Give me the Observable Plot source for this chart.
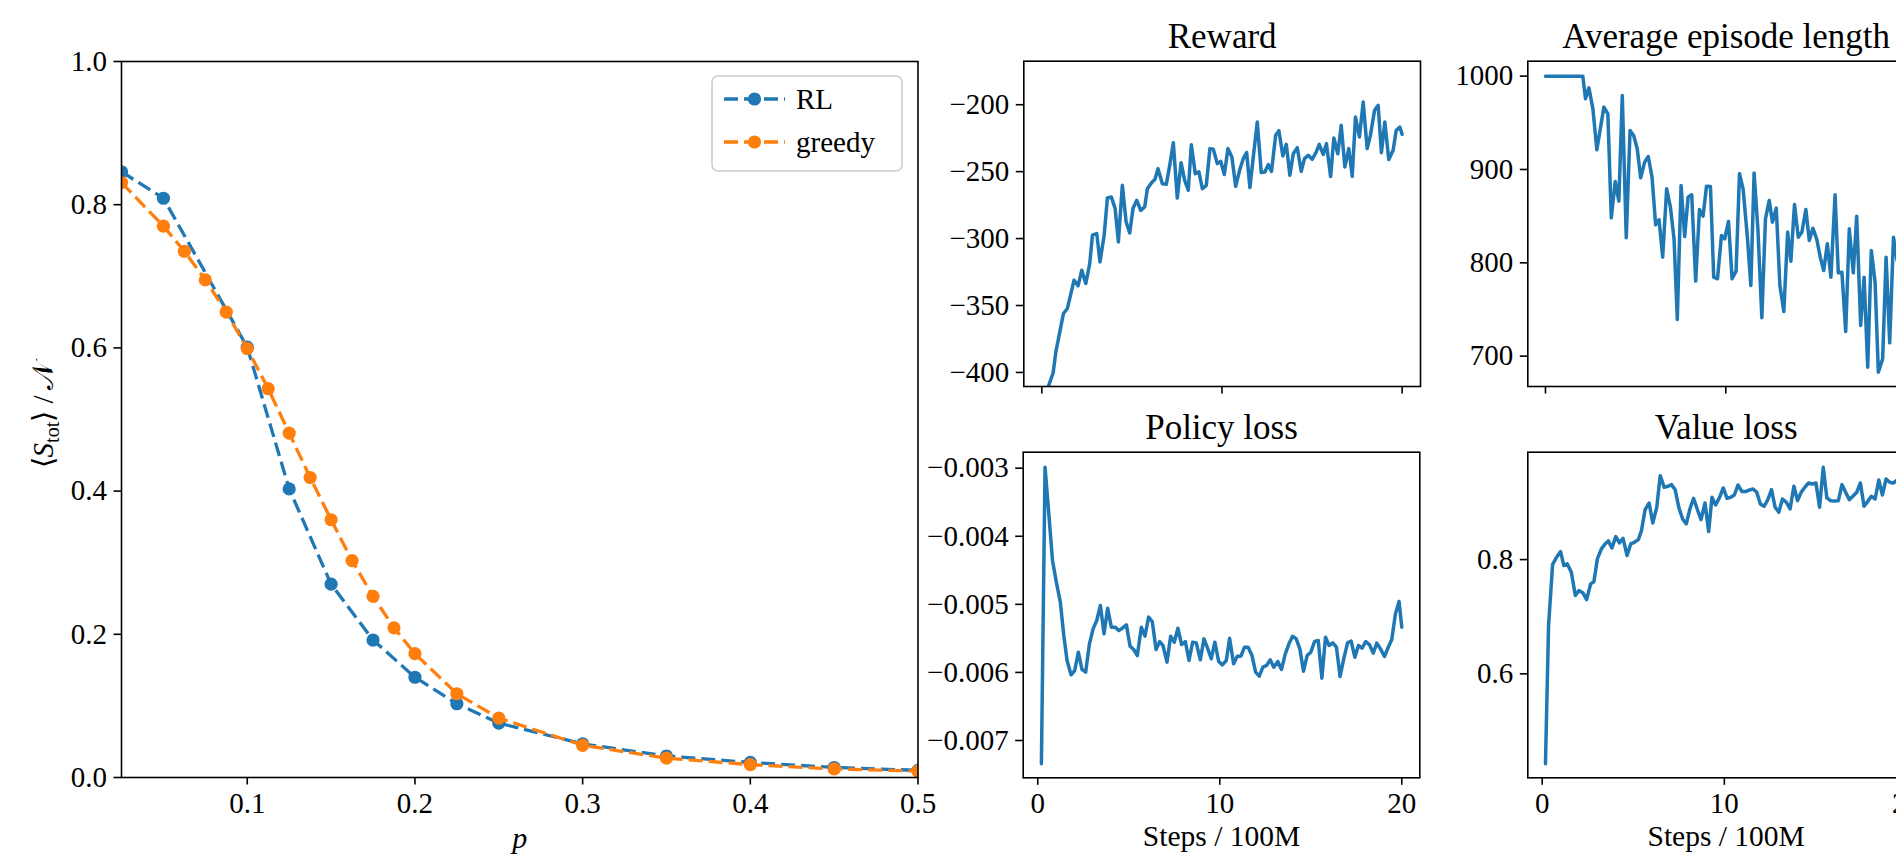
<!DOCTYPE html>
<html><head><meta charset="utf-8">
<script src="https://cdn.jsdelivr.net/npm/d3@7"></script>
<script src="https://cdn.jsdelivr.net/npm/@observablehq/plot@0.6"></script>
<style>
html,body{margin:0;padding:0;overflow:hidden;background:#fff;}
#fig{position:relative;width:1896px;height:857px;overflow:hidden;background:#fff;}
#fig svg{position:absolute;}
#fig svg text{font-family:'Liberation Serif','Times New Roman',serif !important;}
#fig svg g[aria-label$="tick label"] text{font-size:29px !important;font-variant-numeric:normal !important;}
</style></head><body><div id="fig"></div><script>
// ---------- data: left panel ----------
const seriesNames = ["RL", "greedy"];
const pRL = [0.025, 0.05, 0.1, 0.125, 0.15, 0.175, 0.2, 0.225, 0.25, 0.3, 0.35, 0.4, 0.45, 0.5];
const sRL = [0.846, 0.809, 0.601, 0.403, 0.270, 0.192, 0.140, 0.103, 0.076, 0.047, 0.030, 0.021, 0.014, 0.010];
const pGreedy = [0.025, 0.05, 0.0625, 0.075, 0.0875, 0.1, 0.1125, 0.125, 0.1375, 0.15, 0.1625, 0.175, 0.1875, 0.2, 0.225, 0.25, 0.3, 0.35, 0.4, 0.45, 0.5];
const sGreedy = [0.831, 0.770, 0.735, 0.695, 0.650, 0.599, 0.543, 0.481, 0.419, 0.360, 0.303, 0.253, 0.209, 0.173, 0.117, 0.083, 0.045, 0.027, 0.018, 0.012, 0.009];
const pTicks = [0.1, 0.2, 0.3, 0.4, 0.5];
const sTicks = [0, 0.2, 0.4, 0.6, 0.8, 1.0];

// ---------- data: training curves ----------
const stepTicks = [0, 10, 20];
const rewardSteps = [0.37,0.63,0.78,1.20,1.42,1.79,2.01,2.22,2.44,2.66,2.81,3.05,3.23,3.46,3.64,3.86,4.07,4.25,4.47,4.68,4.88,5.06,5.27,5.49,5.71,5.86,6.08,6.28,6.45,6.69,6.91,7.10,7.30,7.52,7.73,7.93,8.13,8.30,8.52,8.72,8.91,9.13,9.33,9.52,9.74,9.93,10.13,10.33,10.55,10.76,10.98,11.18,11.37,11.55,11.77,11.96,12.18,12.38,12.57,12.75,12.98,13.16,13.38,13.57,13.77,13.96,14.18,14.40,14.58,14.79,15.01,15.23,15.40,15.62,15.80,16.03,16.21,16.43,16.62,16.82,17.04,17.23,17.41,17.63,17.84,18.06,18.24,18.47,18.67,18.85,19.04,19.26,19.50,19.67,19.87,20.0];
const rewardValues = [-410.2,-400.2,-384.6,-356.0,-352.2,-331.1,-335.3,-323.6,-333.6,-318.7,-297.5,-296.3,-317.4,-297.5,-269.7,-268.9,-277.6,-302.5,-260.2,-287.6,-295.8,-277.6,-271.4,-278.9,-276.4,-262.7,-258.5,-255.7,-247.8,-259.0,-259.5,-245.3,-228.4,-269.7,-243.3,-256.5,-263.9,-229.9,-251.5,-250.2,-262.7,-260.2,-232.8,-233.3,-244.0,-242.3,-252.2,-232.8,-239.1,-260.9,-249.0,-240.3,-235.8,-261.9,-235.3,-212.9,-250.7,-250.2,-244.8,-249.8,-222.9,-219.4,-238.3,-229.6,-252.7,-236.6,-232.1,-249.8,-240.3,-237.8,-240.8,-235.3,-229.6,-237.1,-229.1,-253.7,-224.9,-236.6,-215.4,-246.5,-232.8,-253.5,-209.2,-224.1,-198.0,-232.8,-222.9,-204.2,-200.5,-235.8,-212.9,-241.0,-234.1,-219.2,-216.7,-222.1];
const rewardTicks = [-400, -350, -300, -250, -200];

const lengthSteps = [0,2.07,2.22,2.41,2.63,2.85,3.24,3.46,3.65,3.87,4.07,4.26,4.48,4.69,4.89,5.09,5.28,5.50,5.70,5.91,6.11,6.30,6.50,6.72,6.93,7.13,7.31,7.52,7.72,7.91,8.11,8.33,8.54,8.74,8.93,9.15,9.33,9.54,9.76,9.94,10.15,10.35,10.57,10.76,10.96,11.19,11.39,11.57,11.78,12.00,12.20,12.41,12.59,12.80,13.00,13.22,13.43,13.61,13.81,14.02,14.22,14.44,14.63,14.83,15.04,15.24,15.43,15.63,15.83,16.06,16.24,16.44,16.65,16.85,17.07,17.26,17.48,17.67,17.87,18.07,18.28,18.46,18.70,18.89,19.09,19.30,19.50];
const lengthValues = [1000,1000,975.7,987.5,965.0,921.1,966.8,959.6,848.2,887.1,866.1,979.3,826.8,941.8,936.4,922.1,891.1,907.9,913.9,891.8,840.7,846.1,806.1,879.3,859.6,825.7,739.3,882.9,828.2,870.4,872.9,780.4,857.1,850.0,882.1,881.8,784.6,782.9,829.3,825.7,844.3,782.9,791.1,895.4,879.3,829.3,775.7,896.1,836.4,741.1,847.1,866.8,843.6,858.6,775.7,747.9,832.9,801.8,862.5,827.5,832.9,857.1,823.9,837.1,825.7,806.1,791.8,820.4,784.6,872.9,789.3,790.0,726.4,836.4,789.3,850.0,732.9,784.6,688.2,813.2,779.3,682.9,697.1,806.1,714.3,827.5,802.5];
const lengthTicks = [700, 800, 900, 1000];

const policySteps = [0.20,0.40,0.60,0.81,1.02,1.24,1.43,1.61,1.83,2.03,2.23,2.43,2.63,2.84,3.04,3.24,3.44,3.64,3.84,4.04,4.25,4.45,4.65,4.87,5.07,5.27,5.47,5.69,5.89,6.09,6.29,6.50,6.70,6.88,7.10,7.30,7.50,7.70,7.90,8.11,8.31,8.51,8.71,8.93,9.13,9.33,9.53,9.73,9.94,10.14,10.36,10.54,10.76,10.96,11.16,11.36,11.56,11.77,11.97,12.17,12.37,12.57,12.77,12.97,13.19,13.39,13.60,13.80,14.00,14.20,14.40,14.60,14.80,15.00,15.21,15.41,15.61,15.81,16.01,16.21,16.41,16.61,16.82,17.02,17.22,17.42,17.62,17.82,18.02,18.23,18.43,18.63,18.83,19.05,19.25,19.45,19.65,19.85,20.0];
const policyValues = [-0.007343,-0.002985,-0.003646,-0.004356,-0.004674,-0.004968,-0.005458,-0.005825,-0.006035,-0.005972,-0.005703,-0.005957,-0.005996,-0.005580,-0.005360,-0.005237,-0.005017,-0.005433,-0.005056,-0.005335,-0.005335,-0.005384,-0.005350,-0.005301,-0.005614,-0.005663,-0.005752,-0.005335,-0.005468,-0.005188,-0.005252,-0.005663,-0.005546,-0.005605,-0.005849,-0.005468,-0.005556,-0.005350,-0.005590,-0.005546,-0.005825,-0.005556,-0.005566,-0.005815,-0.005507,-0.005644,-0.005800,-0.005556,-0.005840,-0.005889,-0.005825,-0.005497,-0.005874,-0.005761,-0.005761,-0.005629,-0.005629,-0.005752,-0.005996,-0.006055,-0.005923,-0.005898,-0.005815,-0.005923,-0.005840,-0.005957,-0.005727,-0.005580,-0.005468,-0.005507,-0.005654,-0.005982,-0.005752,-0.005703,-0.005546,-0.005531,-0.006084,-0.005482,-0.005605,-0.005566,-0.005629,-0.006060,-0.005791,-0.005566,-0.005541,-0.005776,-0.005605,-0.005644,-0.005546,-0.005595,-0.005717,-0.005570,-0.005654,-0.005766,-0.005634,-0.005517,-0.005140,-0.004958,-0.005335];
const policyTicks = [-0.007, -0.006, -0.005, -0.004, -0.003];

const valueSteps = [0.18,0.35,0.57,0.79,1.01,1.19,1.38,1.60,1.82,2.02,2.24,2.44,2.66,2.84,3.03,3.25,3.45,3.63,3.83,4.04,4.24,4.44,4.66,4.86,5.06,5.28,5.45,5.65,5.87,6.07,6.29,6.48,6.70,6.90,7.10,7.30,7.50,7.71,7.91,8.11,8.31,8.51,8.72,8.94,9.14,9.32,9.52,9.74,9.94,10.15,10.35,10.55,10.75,10.97,11.17,11.38,11.58,11.78,11.98,12.18,12.39,12.59,12.79,12.99,13.19,13.41,13.61,13.82,14.02,14.22,14.42,14.62,14.83,15.03,15.23,15.43,15.63,15.83,16.06,16.26,16.46,16.66,16.86,17.06,17.27,17.47,17.67,17.87,18.07,18.28,18.48,18.68,18.88,19.08,19.28,19.50];
const valueValues = [0.4426,0.6845,0.7913,0.8041,0.8140,0.7895,0.7924,0.7778,0.7370,0.7458,0.7417,0.7300,0.7574,0.7615,0.8012,0.8187,0.8274,0.8327,0.8204,0.8402,0.8292,0.8373,0.8070,0.8274,0.8303,0.8350,0.8507,0.8875,0.8991,0.8641,0.8915,0.9469,0.9265,0.9283,0.9312,0.9224,0.8915,0.8711,0.8624,0.8886,0.9073,0.8886,0.8700,0.8991,0.8490,0.9090,0.8956,0.9090,0.9254,0.9073,0.9090,0.9131,0.9306,0.9190,0.9190,0.9219,0.9236,0.9178,0.8974,0.8933,0.9050,0.9224,0.8915,0.8828,0.9061,0.9003,0.8886,0.9283,0.9032,0.9178,0.9265,0.9341,0.9324,0.9341,0.8915,0.9615,0.9079,0.9032,0.9026,0.9032,0.9312,0.9178,0.9050,0.9108,0.9178,0.9341,0.8933,0.9015,0.9108,0.9061,0.9394,0.9131,0.9411,0.9353,0.9341,0.9394];
const valueTicks = [0.6, 0.8];

// ---------- styling ----------
const BLUE = "#1f77b4", ORANGE = "#ff7f0e";
const FONT = "'Liberation Serif', 'Times New Roman', serif";
const TICK = {tickSize: 7.5, tickPadding: 7, strokeWidth: 1.6, label: null, fontSize: 29};
const fig = document.getElementById("fig");
const baseStyle = {background: "transparent", overflow: "visible", maxWidth: "none", fontFamily: FONT, fontSize: "29px", color: "black"};
function place(svg, left, top) { svg.style.left = left + "px"; svg.style.top = top + "px"; fig.appendChild(svg); }

// ---------- left panel ----------
const rlRows = pRL.map((p, i) => ({p, s: sRL[i]}));
const grRows = pGreedy.map((p, i) => ({p, s: sGreedy[i]}));
const dash = "14,6";
const left = Plot.plot({
  width: 960, height: 857,
  marginLeft: 121, marginRight: 42.5, marginTop: 61, marginBottom: 80,
  style: baseStyle,
  x: {domain: [0.025, 0.5]},
  y: {domain: [0, 1]},
  marks: [
    Plot.lineY(rlRows, {x: "p", y: "s", stroke: BLUE, strokeWidth: 3.3, strokeDasharray: dash, strokeLinecap: "butt", clip: true}),
    Plot.dot(rlRows, {x: "p", y: "s", fill: BLUE, r: 6.6, clip: true}),
    Plot.lineY(grRows, {x: "p", y: "s", stroke: ORANGE, strokeWidth: 3.3, strokeDasharray: dash, strokeLinecap: "butt", clip: true}),
    Plot.dot(grRows, {x: "p", y: "s", fill: ORANGE, r: 6.6, clip: true}),
    Plot.axisX({ticks: pTicks, tickFormat: d3.format(".1f"), ...TICK}),
    Plot.axisY({ticks: sTicks, tickFormat: d3.format(".1f"), ...TICK}),
    Plot.frame({stroke: "black", strokeWidth: 1.6}),
    Plot.text(["p"], {text: d => d, frameAnchor: "bottom", dy: 70, lineAnchor: "bottom", fontStyle: "italic", fontSize: 30})
  ]
});
place(left, 0, 0);

// y label with math-like formatting (axis title, rotated, centred on its measured extent)
{
  const t = d3.select(left).append("text")
    .attr("text-anchor", "start").attr("font-size", 29).attr("fill", "black");
  t.append("tspan").text("\u27E8");
  t.append("tspan").attr("font-style", "italic").text("S");
  t.append("tspan").attr("font-size", "20px").attr("dy", "6px").text("tot");
  t.append("tspan").attr("dy", "-6px").text("\u27E9 /\u2009");
  t.append("tspan").text("\uD835\uDCA9");
  let cx = 55;
  try { const b = t.node().getBBox(); if (b && b.width > 0) cx = b.x + b.width / 2; } catch (e) {}
  t.attr("transform", `translate(53,${413 + cx}) rotate(-90)`);
}

// legend
{
  const g = d3.select(left).append("g").attr("font-size", 29).attr("text-anchor", "start");
  g.append("rect").attr("x", 712).attr("y", 76).attr("width", 190).attr("height", 95).attr("rx", 6)
    .attr("fill", "white").attr("fill-opacity", 0.8).attr("stroke", "#cccccc").attr("stroke-width", 1.6);
  const colors = [BLUE, ORANGE];
  seriesNames.forEach((name, i) => {
    const y = 99 + i * 43;
    g.append("line").attr("x1", 724).attr("x2", 785).attr("y1", y).attr("y2", y)
      .attr("stroke", colors[i]).attr("stroke-width", 3.3).attr("stroke-dasharray", dash);
    g.append("circle").attr("cx", 754.5).attr("cy", y).attr("r", 6.6).attr("fill", colors[i]);
    g.append("text").attr("x", 796).attr("y", y + 10).attr("fill", "black").attr("text-anchor", "start").text(name);
  });
}

// ---------- training panels ----------
function trainPanel(o) {
  const rows = o.steps.map((s, i) => ({step: s, value: o.values[i]}));
  const marks = [
    Plot.line(rows, {x: "step", y: "value", stroke: BLUE, strokeWidth: 3.5, clip: true}),
    Plot.axisX({ticks: stepTicks, tickFormat: o.bottom ? d3.format("d") : () => "", ...TICK}),
    Plot.axisY({ticks: o.yTicks, tickFormat: o.yFmt, ...TICK}),
    Plot.frame({stroke: "black", strokeWidth: 1.6}),
    Plot.text([o.title], {text: d => d, frameAnchor: "top", dy: -13.3, lineAnchor: "bottom", fontSize: 35})
  ];
  if (o.bottom) marks.push(Plot.text(["Steps / 100M"], {text: d => d, frameAnchor: "bottom", dy: 68, lineAnchor: "bottom", fontSize: 29.5}));
  const svg = Plot.plot({
    width: o.width, height: o.height,
    marginLeft: o.ml, marginRight: o.mr, marginTop: o.mt, marginBottom: o.mb,
    style: baseStyle,
    x: {domain: o.xDomain},
    y: {domain: o.yDomain},
    marks
  });
  place(svg, o.left, o.top);
}

trainPanel({title: "Reward", steps: rewardSteps, values: rewardValues, yTicks: rewardTicks, yFmt: d3.format("d"),
  xDomain: [-1, 21.02], yDomain: [-410.5, -167.5], bottom: false,
  left: 900, top: 0, width: 540, height: 430, ml: 123.3, mr: 20, mt: 60.7, mb: 44});
trainPanel({title: "Policy loss", steps: policySteps, values: policyValues, yTicks: policyTicks, yFmt: d3.format(".3f"),
  xDomain: [-0.8, 20.99], yDomain: [-0.007548, -0.002765], bottom: true,
  left: 900, top: 430, width: 540, height: 427, ml: 122.7, mr: 20.7, mt: 21.7, mb: 79.7});
trainPanel({title: "Average episode length", steps: lengthSteps, values: lengthValues, yTicks: lengthTicks, yFmt: d3.format("d"),
  xDomain: [-0.98, 21.02], yDomain: [667.5, 1016], bottom: false,
  left: 1440, top: 0, width: 520, height: 430, ml: 87.3, mr: 36, mt: 60.7, mb: 44});
trainPanel({title: "Value loss", steps: valueSteps, values: valueValues, yTicks: valueTicks, yFmt: d3.format(".1f"),
  xDomain: [-0.79, 20.99], yDomain: [0.418, 0.988], bottom: true,
  left: 1440, top: 430, width: 520, height: 427, ml: 87.3, mr: 36, mt: 21.7, mb: 79.7});
</script></body></html>
